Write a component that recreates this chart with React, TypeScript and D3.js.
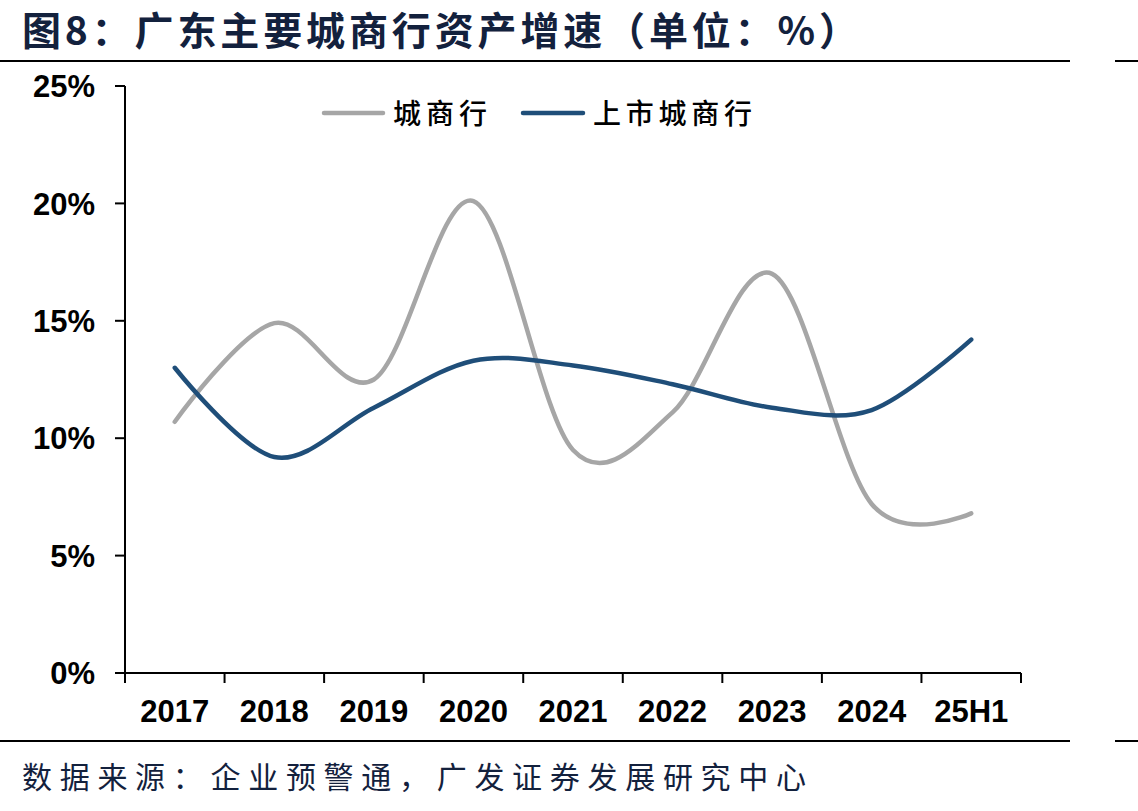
import React from 'react';
import * as d3 from 'd3';

// 广东主要城商行资产增速（%）
const categories = ['2017', '2018', '2019', '2020', '2021', '2022', '2023', '2024', '25H1'];
const cityBanks = [10.7, 14.9, 12.5, 20.1, 9.5, 11.1, 17.0, 7.2, 6.8];
const listedCityBanks = [13.0, 9.2, 11.3, 13.3, 13.1, 12.3, 11.3, 11.2, 14.2];
const yTicks = [0, 5, 10, 15, 20, 25];

const series = [
  { name: '城商行', values: cityBanks, color: '#a6a6a6' },
  { name: '上市城商行', values: listedCityBanks, color: '#1f4e79' },
];

const W = 1138;
const H = 811;
const plot = { left: 125, right: 1021, top: 86, bottom: 673 };
const ink = '#13213d';
const latin = '"Liberation Sans", Arial, sans-serif';
const cjk = '"Noto Sans CJK SC", sans-serif';

export default function App() {
  const x = d3.scaleBand<string>()
    .domain(categories)
    .range([plot.left, plot.right])
    .paddingInner(0)
    .paddingOuter(0);

  const y = d3.scaleLinear()
    .domain([0, 25])
    .range([plot.bottom, plot.top]);

  const cx = (c: string) => (x(c) ?? 0) + x.bandwidth() / 2;

  // smoothed line, same feel as a spreadsheet "smooth line"
  const line = d3.line<number>()
    .x((_, i) => cx(categories[i]))
    .y(d => y(d))
    .curve(d3.curveCardinal.tension(0));

  const boundaries = [...categories.map(c => x(c) ?? 0), plot.right];

  return (
    <svg width={W} height={H} style={{ position: 'absolute', left: 0, top: 0, background: '#fff' }}>
      {/* title */}
      <text x={22} y={45} fontFamily={cjk} fontWeight={700} fontSize={39} fill={ink}
        textLength={836} lengthAdjust="spacing">
        图8：广东主要城商行资产增速（单位：%）
      </text>
      <line x1={0} x2={1070} y1={61} y2={61} stroke="#000" strokeWidth={2} />
      <line x1={1115} x2={W} y1={61} y2={61} stroke="#000" strokeWidth={2} />

      {/* y axis */}
      <line x1={plot.left} x2={plot.left} y1={plot.top} y2={plot.bottom} stroke="#000" strokeWidth={2} />
      {yTicks.map(t => (
        <g key={t}>
          <line x1={plot.left - 10} x2={plot.left} y1={y(t)} y2={y(t)} stroke="#000" strokeWidth={2} />
          <text x={95} y={y(t)} dy="0.36em" textAnchor="end" fontFamily={latin} fontWeight={700}
            fontSize={31} fill="#000">{t}%</text>
        </g>
      ))}

      {/* x axis */}
      <line x1={plot.left} x2={plot.right} y1={plot.bottom} y2={plot.bottom} stroke="#000" strokeWidth={2} />
      {boundaries.map((b, i) => (
        <line key={i} x1={b} x2={b} y1={plot.bottom} y2={plot.bottom + 10} stroke="#000" strokeWidth={2} />
      ))}
      {categories.map(c => (
        <text key={c} x={cx(c)} y={722} textAnchor="middle" fontFamily={latin} fontWeight={700}
          fontSize={31} fill="#000">{c}</text>
      ))}

      {/* series */}
      {series.map(s => (
        <path key={s.name} d={line(s.values) ?? ''} fill="none" stroke={s.color} strokeWidth={4.5}
          strokeLinecap="round" strokeLinejoin="round" />
      ))}

      {/* legend */}
      <line x1={324} x2={383} y1={113} y2={113} stroke={series[0].color} strokeWidth={4.5} strokeLinecap="round" />
      <text x={393} y={114} dy="0.36em" fontFamily={cjk} fontWeight={500} fontSize={28} fill="#000"
        textLength={94} lengthAdjust="spacing">{series[0].name}</text>
      <line x1={523} x2={583} y1={113} y2={113} stroke={series[1].color} strokeWidth={4.5} strokeLinecap="round" />
      <text x={593} y={114} dy="0.36em" fontFamily={cjk} fontWeight={500} fontSize={28} fill="#000"
        textLength={159} lengthAdjust="spacing">{series[1].name}</text>

      {/* footer */}
      <line x1={0} x2={1070} y1={741} y2={741} stroke="#000" strokeWidth={2} />
      <line x1={1115} x2={W} y1={741} y2={741} stroke="#000" strokeWidth={2} />
      <text x={22} y={788} fontFamily={cjk} fontWeight={400} fontSize={30} fill={ink}
        textLength={784} lengthAdjust="spacing">
        数据来源：企业预警通，广发证券发展研究中心
      </text>
    </svg>
  );
}
